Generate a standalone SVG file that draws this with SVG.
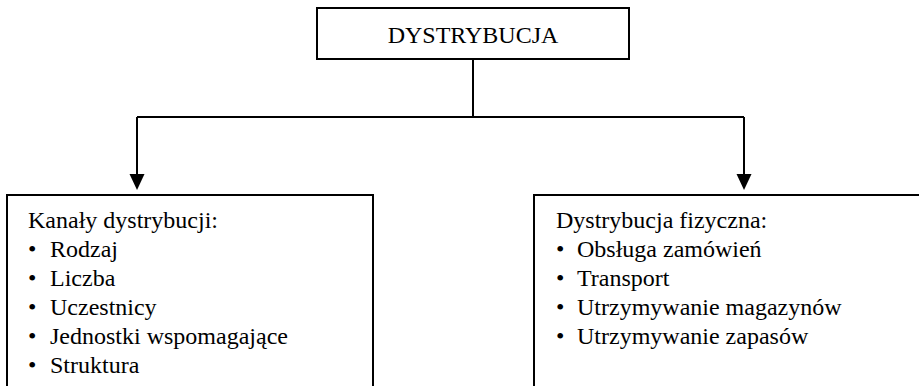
<svg xmlns="http://www.w3.org/2000/svg" width="919" height="386" viewBox="0 0 919 386">
  <style>
    .box { fill: #ffffff; stroke: #000000; stroke-width: 2; }
    .wire { fill: none; stroke: #000000; stroke-width: 2; }
    .head { fill: #000000; stroke: none; }
    .label { font-family: 'Liberation Serif', 'Times New Roman', Tinos, 'DejaVu Serif', serif; font-size: 24px; fill: #000000; }
  </style>
  <rect width="919" height="386" fill="#ffffff"/>

  <g id="connectors">
    <path class="wire" d="M473 59 V117 M137 117 H744 M137 117 V176 M744 117 V176"/>
    <polygon class="head" points="129.5,174 144.5,174 137,190"/>
    <polygon class="head" points="736.5,174 751.5,174 744,190"/>
  </g>

  <g id="dystrybucja" class="label">
    <rect class="box" x="317" y="8" width="312" height="51"/>
    <text x="473" y="43" text-anchor="middle">DYSTRYBUCJA</text>
  </g>

  <g id="kanaly-dystrybucji" class="label">
    <rect class="box" x="7" y="195" width="366" height="200"/>
    <text x="28" y="228">Kanały dystrybucji:</text>
    <text x="28" y="257">•</text><text x="50" y="257">Rodzaj</text>
    <text x="28" y="286">•</text><text x="50" y="286">Liczba</text>
    <text x="28" y="315">•</text><text x="50" y="315">Uczestnicy</text>
    <text x="28" y="344">•</text><text x="50" y="344">Jednostki wspomagające</text>
    <text x="28" y="373">•</text><text x="50" y="373">Struktura</text>
  </g>

  <g id="dystrybucja-fizyczna" class="label">
    <rect class="box" x="534" y="195" width="400" height="200"/>
    <text x="556" y="228">Dystrybucja fizyczna:</text>
    <text x="556" y="257">•</text><text x="577" y="257">Obsługa zamówień</text>
    <text x="556" y="286">•</text><text x="577" y="286">Transport</text>
    <text x="556" y="315">•</text><text x="577" y="315">Utrzymywanie magazynów</text>
    <text x="556" y="344">•</text><text x="577" y="344">Utrzymywanie zapasów</text>
  </g>
</svg>
